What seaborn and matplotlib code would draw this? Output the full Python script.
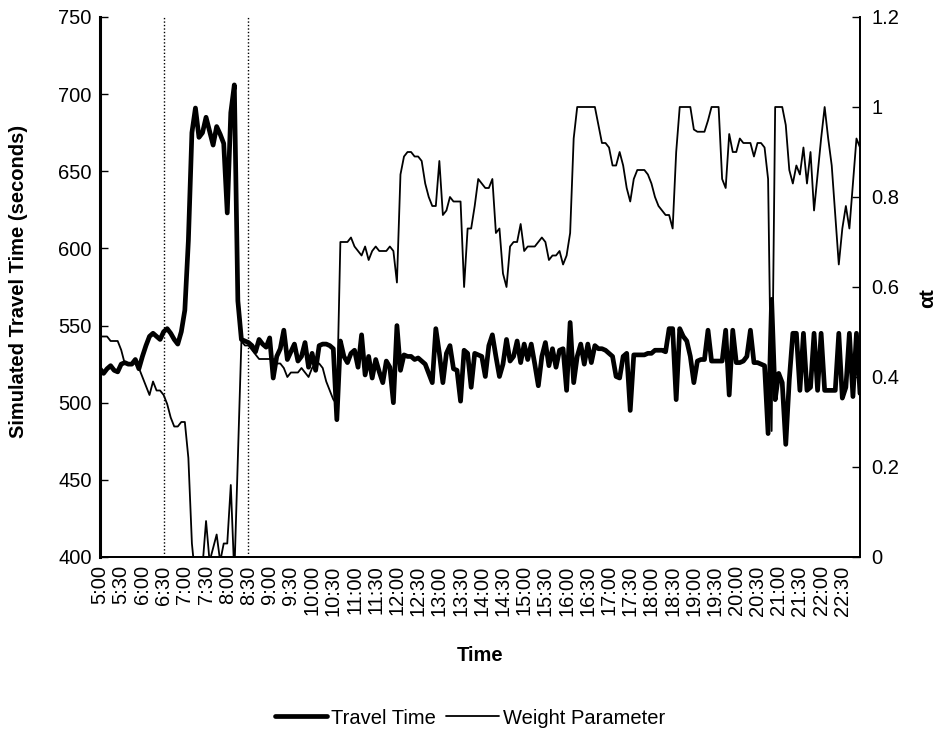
import matplotlib
matplotlib.use('Agg')
import matplotlib.pyplot as plt
import seaborn as sns
import pandas as pd
from matplotlib.lines import Line2D

sns.set_theme(style="white")
plt.rcParams['font.family'] = ['Liberation Sans', 'DejaVu Sans']
plt.rcParams['text.color'] = 'black'
plt.rcParams['axes.labelcolor'] = 'black'
plt.rcParams['xtick.color'] = 'black'
plt.rcParams['ytick.color'] = 'black'

# half-hour tick labels (data is every 5 minutes, 6 points per label)
time_labels = ['5:00', '5:30', '6:00', '6:30', '7:00', '7:30', '8:00', '8:30',
               '9:00', '9:30', '10:00', '10:30', '11:00', '11:30', '12:00', '12:30',
               '13:00', '13:30', '14:00', '14:30', '15:00', '15:30', '16:00', '16:30',
               '17:00', '17:30', '18:00', '18:30', '19:00', '19:30', '20:00', '20:30',
               '21:00', '21:30', '22:00', '22:30']
points_per_label = 6
event_times = ['6:30', '8:30']

left_ticks = [400, 450, 500, 550, 600, 650, 700, 750]
right_ticks = [0, 0.2, 0.4, 0.6, 0.8, 1.0, 1.2]
right_tick_labels = ['0', '0.2', '0.4', '0.6', '0.8', '1', '1.2']

# simulated travel time (seconds), 5:00 .. 22:55 every 5 min
travel_time = [
    522, 519, 522, 524, 521, 520, 525, 526, 525, 525,
    528, 522, 530, 537, 543, 545, 543, 541, 546, 548,
    545, 541, 538, 546, 560, 605, 675, 691, 672, 675,
    685, 676, 667, 679, 674, 668, 623, 688, 706, 566,
    541, 540, 539, 537, 533, 541, 538, 536, 542, 516,
    530, 535, 547, 528, 533, 538, 527, 530, 539, 523,
    532, 521, 537, 538, 538, 537, 535, 489, 540, 530,
    526, 532, 534, 523, 544, 518, 530, 516, 528, 520,
    513, 527, 523, 500, 550, 521, 531, 530, 530, 528,
    529, 527, 525, 519, 513, 548, 532, 513, 532, 537,
    522, 521, 501, 534, 532, 510, 532, 531, 530, 517,
    537, 544, 530, 517, 525, 541, 527, 530, 540, 526,
    538, 528, 538, 525, 511, 530, 539, 524, 535, 523,
    534, 535, 508, 552, 513, 530, 538, 525, 538, 526,
    537, 535, 535, 534, 532, 530, 517, 516, 530, 532,
    495, 531, 531, 531, 531, 532, 532, 534, 534, 534,
    533, 548, 548, 502, 548, 543, 540, 530, 513, 527,
    528, 528, 547, 527, 527, 527, 527, 547, 505, 547,
    526, 526, 527, 530, 547, 526, 526, 525, 524, 480,
    567, 502, 519, 513, 473, 515, 545, 545, 508, 545,
    508, 510, 545, 508, 545, 508, 508, 508, 508, 545,
    503, 510, 545, 504, 545, 506,
]

# weight parameter alpha_t, same time steps
weight_param = [
    0.49, 0.49, 0.49, 0.48, 0.48, 0.48, 0.46, 0.43, 0.43, 0.43,
    0.43, 0.42, 0.40, 0.38, 0.36, 0.39, 0.37, 0.37, 0.36, 0.34,
    0.31, 0.29, 0.29, 0.30, 0.30, 0.22, 0.03, -0.05, -0.05, -0.02,
    0.08, -0.01, 0.02, 0.05, -0.01, 0.03, 0.03, 0.16, -0.04, 0.22,
    0.48, 0.47, 0.47, 0.46, 0.45, 0.44, 0.44, 0.44, 0.44, 0.44,
    0.43, 0.43, 0.42, 0.40, 0.41, 0.41, 0.41, 0.42, 0.41, 0.40,
    0.42, 0.43, 0.43, 0.42, 0.39, 0.37, 0.35, 0.34, 0.70, 0.70,
    0.70, 0.71, 0.69, 0.68, 0.67, 0.69, 0.66, 0.68, 0.69, 0.68,
    0.68, 0.68, 0.69, 0.68, 0.61, 0.85, 0.89, 0.90, 0.90, 0.89,
    0.89, 0.88, 0.83, 0.80, 0.78, 0.78, 0.88, 0.76, 0.77, 0.80,
    0.79, 0.79, 0.79, 0.60, 0.73, 0.73, 0.78, 0.84, 0.83, 0.82,
    0.82, 0.84, 0.72, 0.73, 0.63, 0.60, 0.69, 0.70, 0.70, 0.74,
    0.68, 0.69, 0.69, 0.69, 0.70, 0.71, 0.70, 0.66, 0.67, 0.67,
    0.68, 0.65, 0.67, 0.72, 0.93, 1.00, 1.00, 1.00, 1.00, 1.00,
    1.00, 0.96, 0.92, 0.92, 0.91, 0.87, 0.87, 0.90, 0.87, 0.82,
    0.79, 0.84, 0.86, 0.86, 0.86, 0.85, 0.83, 0.80, 0.78, 0.77,
    0.76, 0.76, 0.73, 0.90, 1.00, 1.00, 1.00, 1.00, 0.95, 0.945,
    0.945, 0.945, 0.97, 1.00, 1.00, 1.00, 0.84, 0.82, 0.94, 0.90,
    0.90, 0.93, 0.92, 0.92, 0.92, 0.89, 0.92, 0.92, 0.91, 0.84,
    0.28, 1.00, 1.00, 1.00, 0.96, 0.86, 0.83, 0.87, 0.85, 0.91,
    0.83, 0.90, 0.77, 0.85, 0.93, 1.00, 0.93, 0.87, 0.76, 0.65,
    0.73, 0.78, 0.73, 0.83, 0.93, 0.91,
]

df = pd.DataFrame({
    'step': range(len(travel_time)),
    'travel_time': travel_time,
    'weight': weight_param,
})

fig = plt.figure(figsize=(9.45, 7.33), dpi=100)
ax = fig.add_axes([100 / 945, 1 - 557 / 733, 760 / 945, 540 / 733])
ax2 = ax.twinx()

sns.lineplot(data=df, x='step', y='travel_time', ax=ax, color='black',
             linewidth=3.4, legend=False)
sns.lineplot(data=df, x='step', y='weight', ax=ax2, color='black',
             linewidth=1.3, legend=False)

# travel time drawn above the weight line
ax.set_zorder(ax2.get_zorder() + 1)
ax.patch.set_visible(False)

for t in event_times:
    ax.axvline(time_labels.index(t) * points_per_label, color='black',
               linestyle=(0, (1, 1.5)), linewidth=1.0)

ax.set_xlim(0, len(travel_time) - 1)
ax.set_ylim(400, 750)
ax2.set_ylim(0, 1.2)

ax.set_xticks([i * points_per_label for i in range(len(time_labels))])
ax.set_xticklabels(time_labels, rotation=90, fontsize=14.5)
ax.set_yticks(left_ticks)
ax.set_yticklabels([str(v) for v in left_ticks], fontsize=14.5)
ax2.set_yticks(right_ticks)
ax2.set_yticklabels(right_tick_labels, fontsize=14.5)

ax.tick_params(axis='both', direction='in', length=6, width=1, pad=6)
ax2.tick_params(axis='y', direction='in', length=6, width=1, pad=8)

ax.set_xlabel('Time', fontsize=14.5, fontweight='bold')
ax.set_ylabel('Simulated Travel Time (seconds)', fontsize=14.5, fontweight='bold')
ax2.set_ylabel('\u03b1t', fontsize=15, fontweight='bold')
ax.xaxis.set_label_coords(0.5, -0.165)
ax.yaxis.set_label_coords(-0.095, 0.51)
ax2.yaxis.set_label_coords(1.076, 0.48)

for a in (ax, ax2):
    a.spines['top'].set_visible(False)
    for s in ('left', 'right', 'bottom'):
        a.spines[s].set_color('black')
        a.spines[s].set_linewidth(1.3)
ax.spines['left'].set_linewidth(2.2)

handles = [Line2D([], [], color='black', linewidth=3.4),
           Line2D([], [], color='black', linewidth=1.3)]
fig.legend(handles, ['Travel Time', 'Weight Parameter'], loc='center',
           bbox_to_anchor=(470 / 945, 1 - 718 / 733), ncol=2, frameon=False,
           fontsize=14.5, handlelength=2.6, handletextpad=0.2, columnspacing=0.5)

fig.savefig('out.png', dpi=100)
